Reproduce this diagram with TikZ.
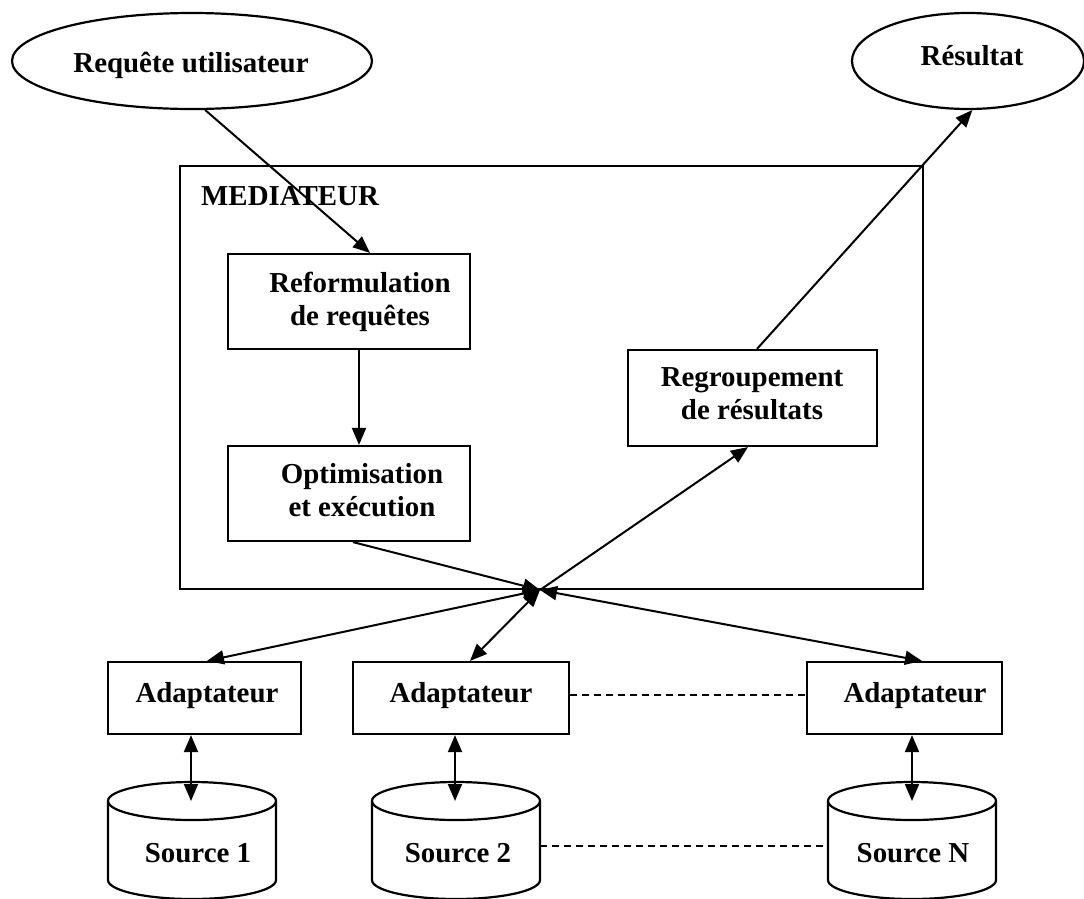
\documentclass[tikz,border=0pt]{standalone}
\usepackage{fontspec}
\setmainfont{Liberation Serif}
\usetikzlibrary{arrows.meta,shapes.geometric,calc}

% outline of a data source: a drum whose body is the invisible node #1
\newcommand\drawdrum[1]{%
  \draw[outline] (#1.north) ellipse[x radius=84pt, y radius=19pt];
  \draw[outline] (#1.north west) -- (#1.south west)
    arc[start angle=180, end angle=360, x radius=84pt, y radius=19pt]
    -- (#1.north east);
}

\begin{document}
\begin{tikzpicture}[x=1pt,y=-1pt,
  outline/.style={draw,line width=2.2pt},
  boxnode/.style={outline,rectangle,inner sep=0pt},
  oval/.style={outline,ellipse,inner sep=0pt},
  drumbody/.style={rectangle,inner sep=0pt,outer sep=0pt,minimum width=168pt,minimum height=79pt},
  lbl/.style={font=\fontsize{28.9}{33}\selectfont\bfseries,align=center,inner sep=0pt},
  tip/.tip={Triangle[length=17pt,width=14pt]},
  link/.style={line width=2pt,-tip},
  dlink/.style={line width=2pt,tip-tip},
  dashlink/.style={line width=2pt,dash pattern=on 7pt off 5pt}
]
\clip (0,0) rectangle (1084,898);

% request and result
\node[oval,minimum width=360,minimum height=96] (req) at (192,61) {};
\node[lbl,anchor=base] (reqtxt) at (191,72) {Requête utilisateur};
\node[oval,minimum width=232,minimum height=96] (res) at (968,61) {};
\node[lbl,anchor=base] (restxt) at (972,65) {Résultat};

% mediator and its components
\node[boxnode,minimum width=743,minimum height=423] (med) at (551.5,377.5) {};
\node[lbl,anchor=base west] (medtxt) at (201,205) {MEDIATEUR};

\node[boxnode,minimum width=242,minimum height=95] (ref) at (349,301.5) {};
\node[lbl] (reftxt) at (360,301.6) {Reformulation\\de requêtes};
\node[boxnode,minimum width=242,minimum height=95] (opt) at (349,493.5) {};
\node[lbl] (opttxt) at (362,489.8) {Optimisation\\et exécution};
\node[boxnode,minimum width=249,minimum height=96] (reg) at (752.5,398) {};
\node[lbl] (regtxt) at (752,393.8) {Regroupement\\de résultats};

% adapters
\node[boxnode,minimum width=193,minimum height=72] (ad1) at (204.5,698) {};
\node[lbl,anchor=base] (ad1txt) at (207,702) {Adaptateur};
\node[boxnode,minimum width=216,minimum height=72] (ad2) at (461,698) {};
\node[lbl,anchor=base] (ad2txt) at (461,702) {Adaptateur};
\node[boxnode,minimum width=195,minimum height=72] (adN) at (904.5,698) {};
\node[lbl,anchor=base] (adNtxt) at (915,702) {Adaptateur};

% sources
\node[drumbody] (cyl1) at (192,840.5) {};
\node[drumbody] (cyl2) at (456,840.5) {};
\node[drumbody] (cylN) at (912,840.5) {};
\drawdrum{cyl1}
\drawdrum{cyl2}
\drawdrum{cylN}
\node[lbl,anchor=base] (s1txt) at (198,862) {Source 1};
\node[lbl,anchor=base] (s2txt) at (458,862) {Source 2};
\node[lbl,anchor=base] (sNtxt) at (913,862) {Source N};

% connectors
\coordinate (J) at (540,590);
\draw[link] (req.-75) -- (370,0 |- ref.north);
\draw[link] (359,0 |- ref.south) -- (359,0 |- opt.north);
\draw[link] (353,0 |- opt.south) -- (J);
\draw[link] (J) -- (748,0 |- reg.south);
\draw[link] (757,0 |- reg.north) -- (res.-85);
\draw[dlink] (J) -- (207,0 |- ad1.north);
\draw[dlink] (J) -- (470,0 |- ad2.north);
\draw[dlink] (J) -- (922,0 |- adN.north);
\draw[dlink] (191,0 |- ad1.south) -- (191,0 |- cyl1.north);
\draw[dlink] (455,0 |- ad2.south) -- (455,0 |- cyl2.north);
\draw[dlink] (912,0 |- adN.south) -- (912,0 |- cylN.north);
\draw[dashlink] (ad2.east |- 0,695) -- (adN.west |- 0,695);
\draw[dashlink] (cyl2.east |- 0,846) -- (cylN.west |- 0,846);
\end{tikzpicture}
\end{document}
